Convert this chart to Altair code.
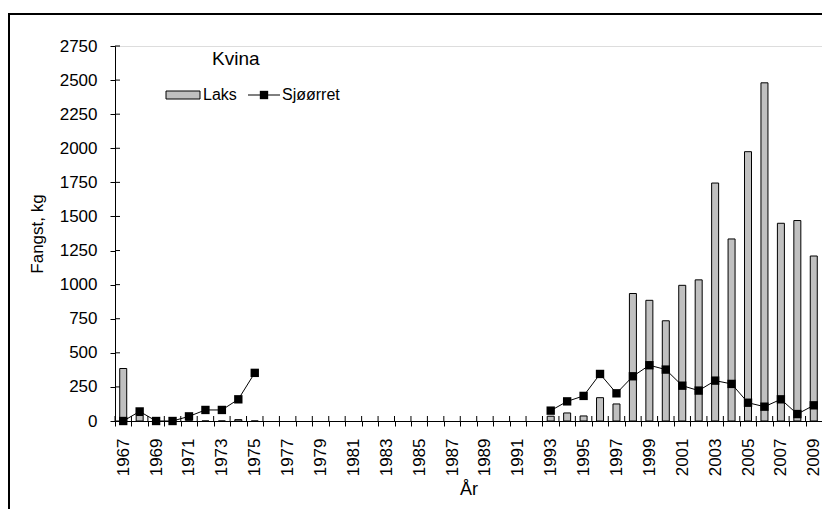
import altair as alt
import pandas as pd

years_all = [str(y) for y in [1967, 1968, 1969, 1970, 1971, 1972, 1973, 1974, 1975, 1976, 1977, 1978,
                              1979, 1980, 1981, 1982, 1983, 1984, 1985, 1986, 1987, 1988, 1989, 1990,
                              1991, 1992, 1993, 1994, 1995, 1996, 1997, 1998, 1999, 2000, 2001, 2002,
                              2003, 2004, 2005, 2006, 2007, 2008, 2009]]

years_a = ["1967", "1968", "1969", "1970", "1971", "1972", "1973", "1974", "1975"]
laks_a = [385, 40, 0, 0, 0, 0, 0, 10, 0]
sjo_a = [0, 70, 0, 0, 34, 81, 81, 159, 353]

years_b = ["1993", "1994", "1995", "1996", "1997", "1998", "1999", "2000", "2001", "2002",
           "2003", "2004", "2005", "2006", "2007", "2008", "2009"]
laks_b = [35, 59, 37, 171, 125, 935, 885, 735, 995, 1035, 1745, 1335, 1975, 2480, 1450, 1470, 1210]
sjo_b = [76, 144, 184, 345, 203, 328, 409, 377, 259, 223, 296, 272, 134, 105, 159, 51, 115]

y_ticks = [0, 250, 500, 750, 1000, 1250, 1500, 1750, 2000, 2250, 2500, 2750]

FONT = "Liberation Sans"
W, H = 707, 375

df = pd.DataFrame({
    "year": years_a + years_b,
    "laks": laks_a + laks_b,
    "sjo": sjo_a + sjo_b,
    "seg": ["a"] * len(years_a) + ["b"] * len(years_b),
})
ticks_df = pd.DataFrame({"v": y_ticks})
xt_df = pd.DataFrame({"year": years_all})
one = pd.DataFrame({"k": [0]})

xscale = alt.Scale(domain=years_all, paddingInner=0, paddingOuter=0)
yscale = alt.Scale(domain=[0, 2750], nice=False)

x_axis = alt.Axis(
    title="År", titleFont=FONT, titleFontSize=18, titleFontWeight="normal", titleColor="black",
    titlePadding=5,
    labelFont=FONT, labelFontSize=17, labelColor="black", labelAngle=270,
    labelAlign="right", labelBaseline="middle", labelPadding=12,
    labelExpr="parseInt(datum.value) % 2 == 1 ? datum.label : ''",
    tickBand="extent", tickSize=5, tickColor="black", domainColor="black",
    labelOverlap=False, grid=False,
)
y_axis = alt.Axis(
    title="Fangst, kg", titleFont=FONT, titleFontSize=17, titleFontWeight="normal", titleColor="black",
    titlePadding=13,
    labelFont=FONT, labelFontSize=17, labelColor="black", labelPadding=13,
    values=y_ticks, format="d", labelOverlap=False,
    tickSize=5, tickColor="black", domainColor="black", grid=False,
)

X = alt.X("year:O", scale=xscale, axis=x_axis, sort=years_all)

base = alt.Chart(df)

bars = base.mark_bar(size=7, fill="#c0c0c0", stroke="black", strokeWidth=1).encode(
    x=X,
    y=alt.Y("laks:Q", scale=yscale, axis=y_axis),
)

line = base.mark_line(color="black", strokeWidth=1).encode(
    x=X,
    y=alt.Y("sjo:Q", scale=yscale, axis=y_axis),
    detail="seg:N",
)

pts = base.mark_square(size=70, color="black", opacity=1).encode(
    x=X,
    y=alt.Y("sjo:Q", scale=yscale, axis=y_axis),
)

ytick_in = alt.Chart(ticks_df).mark_rule(color="black", strokeWidth=1).encode(
    x=alt.value(0), x2=alt.value(5), y=alt.Y("v:Q", scale=yscale, axis=y_axis)
)
xtick_in = alt.Chart(xt_df).mark_rule(color="black", strokeWidth=1).encode(
    x=alt.X("year:O", scale=xscale, axis=x_axis, sort=years_all, bandPosition=0),
    y=alt.value(H - 5), y2=alt.value(H),
)

legend_box = alt.Chart(one).mark_rect(fill="#c0c0c0", stroke="black", strokeWidth=1).encode(
    x=alt.value(51), x2=alt.value(85), y=alt.value(45), y2=alt.value(53)
)
legend_line = alt.Chart(one).mark_rule(color="black", strokeWidth=1).encode(
    x=alt.value(133), x2=alt.value(165), y=alt.value(49)
)
legend_sq = alt.Chart(one).mark_square(size=70, color="black", opacity=1).encode(
    x=alt.value(149), y=alt.value(49)
)
legend_t1 = alt.Chart(one).mark_text(text="Laks", font=FONT, fontSize=16, align="left",
                                     baseline="middle", color="black").encode(
    x=alt.value(88), y=alt.value(49)
)
legend_t2 = alt.Chart(one).mark_text(text="Sjøørret", font=FONT, fontSize=16, align="left",
                                     baseline="middle", color="black").encode(
    x=alt.value(167), y=alt.value(49)
)
title_t = alt.Chart(one).mark_text(text="Kvina", font=FONT, fontSize=19, align="left",
                                   baseline="middle", color="black").encode(
    x=alt.value(97), y=alt.value(13)
)
border = alt.Chart(one).mark_rect(fill=None, stroke="black", strokeWidth=2).encode(
    x=alt.value(-106), x2=alt.value(W + 30), y=alt.value(-32), y2=alt.value(H + 120)
)

chart = alt.layer(
    bars, line, pts, ytick_in, xtick_in,
    legend_box, legend_line, legend_sq, legend_t1, legend_t2, title_t, border,
).properties(
    width=W, height=H,
    autosize=alt.AutoSizeParams(type="none"),
    padding={"left": 107, "top": 38, "right": 0, "bottom": 88},
).configure_view(stroke="transparent").configure(background="white")

chart.save("out.html", embed_options={"renderer": "svg", "actions": False})
